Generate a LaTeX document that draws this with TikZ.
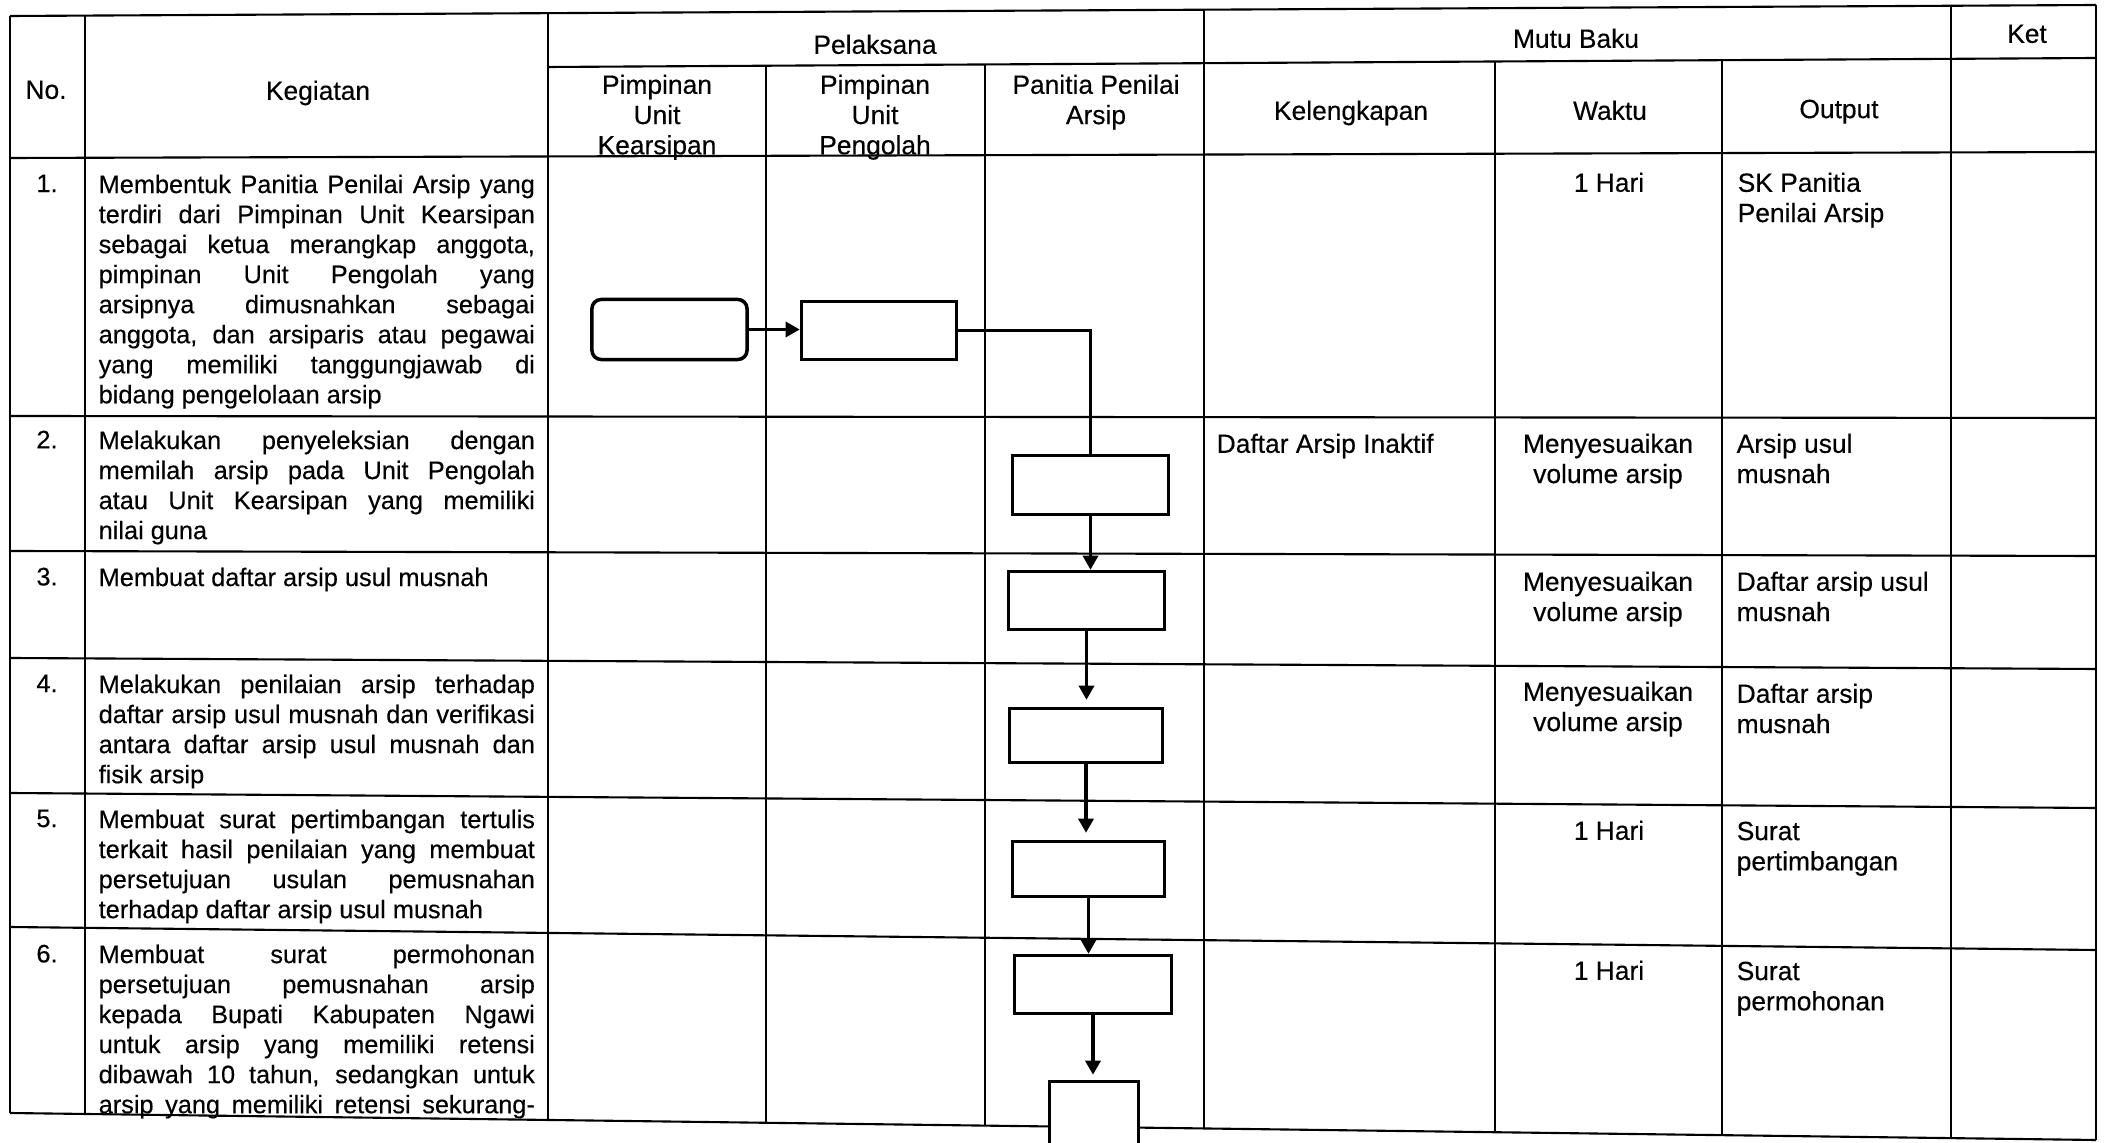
\documentclass[tikz,border=0pt]{standalone}
\usepackage{fontspec}
\setmainfont{Liberation Sans}[FakeBold=0.35]
\usetikzlibrary{arrows.meta}
\newcommand{\fkeg}{\fontsize{7.2}{8.54}\selectfont}
\newcommand{\fmut}{\fontsize{7.5}{8.6}\selectfont}
\newcommand{\jbaris}[1]{\makebox[4.36cm][s]{#1}}

\begin{document}
\begin{tikzpicture}[x=0.01cm, y=0.01cm]
\tikzstyle{every node}+=[inner sep=0pt]
\tikzstyle{garis}=[black, line width=0.6pt]
\tikzstyle{kotak}=[draw=black, line width=1pt, fill=white, minimum width=1.55cm, minimum height=0.58cm]
\tikzstyle{mulai}=[kotak, rounded corners=2.6pt]
\tikzstyle{alur}=[black, line width=0.9pt, -{Triangle[length=4pt,width=4.3pt]}]
\tikzstyle{hd}=[font=\fmut, align=center, anchor=north]
\tikzstyle{keg}=[font=\fkeg, align=left, anchor=north west]
\tikzstyle{nom}=[font=\fkeg, anchor=north]
\tikzstyle{isi}=[font=\fmut, align=left, anchor=north west]
\tikzstyle{wkt}=[font=\fmut, align=center, anchor=north]
\useasboundingbox (0,0) rectangle (2111,-1143);
\clip (0,0) rectangle (2111,-1143);
% garis tabel
\draw [garis] (10,-16) -- (2096,-5);
\draw [garis] (548,-67) -- (2096,-58);
\draw [garis] (10,-158) -- (2096,-152);
\draw [garis] (10,-416) -- (2096,-418);
\draw [garis] (10,-551) -- (2096,-556);
\draw [garis] (10,-658) -- (2096,-669);
\draw [garis] (10,-793) -- (2096,-808);
\draw [garis] (10,-927) -- (2096,-950);
\draw [garis] (10,-1113) -- (2096,-1140);
\foreach \x/\ya/\yb in {10/16/1113, 85/15.6/1114, 548/13.2/1120, 766/65.7/1123,
  985/64.5/1126, 1204/9.7/1128.5, 1495/61.5/1132, 1722/60.2/1135, 1951/5.8/1138, 2096/5/1140}
  \draw [garis] (\x,-\ya) -- (\x,-\yb);
% judul kolom
\node [hd] (hno) at (46,-80) {No.};
\node [hd] (hkeg) at (318,-80) {Kegiatan};
\node [hd] (hpel) at (875,-34) {Pelaksana};
\node [hd] (hmutu) at (1576,-28) {Mutu Baku};
\node [hd] (hket) at (2027,-24) {Ket};
\node [hd] (huk) at (657,-74) {Pimpinan\\Unit\\Kearsipan};
\node [hd] (hup) at (875,-74) {Pimpinan\\Unit\\Pengolah};
\node [hd] (hppa) at (1096,-74) {Panitia Penilai\\Arsip};
\node [hd] (hkel) at (1351,-100) {Kelengkapan};
\node [hd] (hwkt) at (1610,-100) {Waktu};
\node [hd] (hout) at (1839,-99) {Output};
% nomor
\node [nom] (n1) at (47,-174) {1.};
\node [nom] (n2) at (47,-430) {2.};
\node [nom] (n3) at (47,-567) {3.};
\node [nom] (n4) at (47,-674) {4.};
\node [nom] (n5) at (47,-809) {5.};
\node [nom] (n6) at (47,-944) {6.};
% kegiatan
\node [keg] (k1) at (98,-174) {\jbaris{Membentuk Panitia Penilai Arsip yang}\\
  \jbaris{terdiri dari Pimpinan Unit Kearsipan}\\
  \jbaris{sebagai ketua merangkap anggota,}\\
  \jbaris{pimpinan Unit Pengolah yang}\\
  \jbaris{arsipnya dimusnahkan sebagai}\\
  \jbaris{anggota, dan arsiparis atau pegawai}\\
  \jbaris{yang memiliki tanggungjawab di}\\
  bidang pengelolaan arsip};
\node [keg] (k2) at (98,-430) {\jbaris{Melakukan penyeleksian dengan}\\
  \jbaris{memilah arsip pada Unit Pengolah}\\
  \jbaris{atau Unit Kearsipan yang memiliki}\\
  nilai guna};
\node [keg] (k3) at (98,-567) {Membuat daftar arsip usul musnah};
\node [keg] (k4) at (98,-674) {\jbaris{Melakukan penilaian arsip terhadap}\\
  \jbaris{daftar arsip usul musnah dan verifikasi}\\
  \jbaris{antara daftar arsip usul musnah dan}\\
  fisik arsip};
\node [keg] (k5) at (98,-809) {\jbaris{Membuat surat pertimbangan tertulis}\\
  \jbaris{terkait hasil penilaian yang membuat}\\
  \jbaris{persetujuan usulan pemusnahan}\\
  terhadap daftar arsip usul musnah};
\node [keg] (k6) at (98,-944) {\jbaris{Membuat surat permohonan}\\
  \jbaris{persetujuan pemusnahan arsip}\\
  \jbaris{kepada Bupati Kabupaten Ngawi}\\
  \jbaris{untuk arsip yang memiliki retensi}\\
  \jbaris{dibawah 10 tahun, sedangkan untuk}\\
  \jbaris{arsip yang memiliki retensi sekurang-}};
% mutu baku
\node [isi] (l2) at (1216,-433) {Daftar Arsip Inaktif};
\node [wkt] (w1) at (1609,-172) {1 Hari};
\node [wkt] (w2) at (1608,-433) {Menyesuaikan\\volume arsip};
\node [wkt] (w3) at (1608,-571) {Menyesuaikan\\volume arsip};
\node [wkt] (w4) at (1608,-681) {Menyesuaikan\\volume arsip};
\node [wkt] (w5) at (1609,-820) {1 Hari};
\node [wkt] (w6) at (1609,-960) {1 Hari};
\node [isi] (o1) at (1737,-172) {SK Panitia\\Penilai Arsip};
\node [isi] (o2) at (1736,-433) {Arsip usul\\musnah};
\node [isi] (o3) at (1736,-571) {Daftar arsip usul\\musnah};
\node [isi] (o4) at (1736,-683) {Daftar arsip\\musnah};
\node [isi] (o5) at (1736,-821) {Surat\\pertimbangan};
\node [isi] (o6) at (1736,-961) {Surat\\permohonan};
% bagan alir
\node [mulai, minimum width=1.55cm, minimum height=0.60cm] (awal) at (669.5,-329.5) {};
\node [kotak, minimum width=1.55cm, minimum height=0.58cm] (p1) at (879,-330.5) {};
\node [kotak, minimum width=1.56cm, minimum height=0.59cm] (p2) at (1090.5,-485) {};
\node [kotak, minimum width=1.56cm, minimum height=0.58cm] (p3) at (1086.5,-600.5) {};
\node [kotak, minimum width=1.53cm, minimum height=0.54cm] (p4) at (1086,-735.5) {};
\node [kotak, minimum width=1.52cm, minimum height=0.55cm] (p5) at (1088.5,-869) {};
\node [kotak, minimum width=1.57cm, minimum height=0.58cm] (p6) at (1093,-984.5) {};
\node [kotak, minimum width=0.89cm, minimum height=1cm] (p7) at (1094,-1131.5) {};
\draw [alur] (awal.east) -- (awal.east -| p1.west);
\draw [black, line width=0.9pt] (p1.east) -| (p2.north);
\draw [alur] (p2.south) -- (p2.south |- p3.north);
\draw [alur, shorten >=0.07cm] (p3.south) -- (p3.south |- p4.north);
\draw [alur, shorten >=0.07cm] (p4.south) -- (p4.south |- p5.north);
\draw [alur] (p5.south) -- (p5.south |- p6.north);
\draw [alur, shorten >=0.05cm] (p6.south) -- (p6.south |- p7.north);
\end{tikzpicture}
\end{document}
